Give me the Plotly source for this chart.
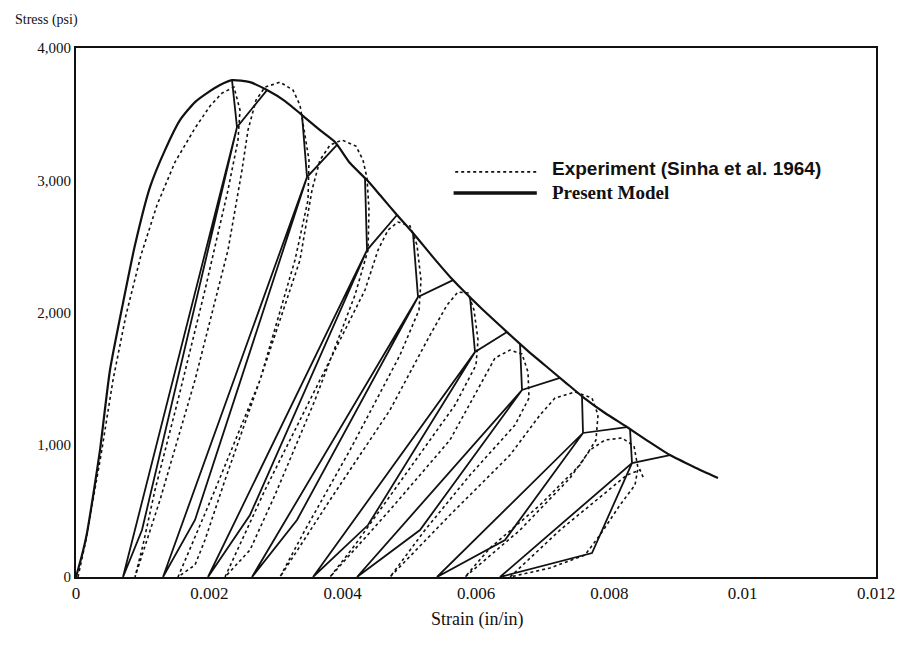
import plotly.graph_objects as go

# ---------------- data (strain in in/in, stress in psi) ----------------
envelope_strain = [0, 0.00009, 0.000165, 0.00027, 0.00036, 0.00051, 0.000705, 0.000885, 0.00111,
                   0.001335, 0.00156, 0.001785, 0.001965, 0.00216, 0.00234, 0.00261, 0.002865,
                   0.003135, 0.00339, 0.00366, 0.003885, 0.00411, 0.004365, 0.00456, 0.004815,
                   0.005055, 0.005355, 0.005655, 0.00606, 0.006465, 0.006765, 0.007065, 0.007335,
                   0.007605, 0.007935, 0.008265, 0.00858, 0.00891, 0.00927, 0.00963]
envelope_stress = [0, 166, 333, 658, 960, 1565, 2071, 2510, 2948,
                   3228, 3455, 3591, 3659, 3720, 3757, 3742, 3682,
                   3599, 3493, 3379, 3289, 3130, 3001, 2888, 2737,
                   2601, 2419, 2245, 2041, 1852, 1716, 1588, 1474,
                   1361, 1240, 1134, 1028, 922, 832, 748]

# model unload / reload cycles: start on envelope -> drop -> break -> residual -> back -> envelope
model_cycle_strain = [
    [0.00234, 0.002415, 0.00099, 0.000705, 0.002415, 0.002865],
    [0.00339, 0.003465, 0.001785, 0.001305, 0.003465, 0.003915],
    [0.004335, 0.004365, 0.00261, 0.00198, 0.004365, 0.004815],
    [0.005055, 0.00513, 0.003315, 0.00264, 0.00513, 0.005655],
    [0.00591, 0.005985, 0.00438, 0.003555, 0.005985, 0.006465],
    [0.00666, 0.00669, 0.00516, 0.004215, 0.00669, 0.00726],
    [0.00759, 0.007605, 0.006435, 0.005415, 0.007605, 0.008265],
    [0.00831, 0.00834, 0.00774, 0.00636, 0.00834, 0.00891],
]
model_cycle_stress = [
    [3757, 3402, 355, 0, 3402, 3682],
    [3493, 3024, 431, 0, 3024, 3268],
    [3016, 2472, 469, 0, 2472, 2737],
    [2601, 2117, 431, 0, 2117, 2245],
    [2117, 1701, 393, 0, 1701, 1852],
    [1764, 1414, 355, 0, 1414, 1506],
    [1367, 1089, 280, 0, 1089, 1134],
    [1119, 862, 181, 0, 862, 922],
]

# experiment (Sinha et al. 1964), one continuous record
exp_strain = [0.00003, 0.00015, 0.000255, 0.000375, 0.000555, 0.00075, 0.000975, 0.001215, 0.001485,
              0.001785, 0.00201, 0.00219, 0.00237,
              0.00246, 0.00243, 0.00228, 0.001935, 0.00153, 0.001185, 0.001005, 0.000885,
              0.00126, 0.001785, 0.00228, 0.00249, 0.00258, 0.0027, 0.002835, 0.00306, 0.003255, 0.00336, 0.003405,
              0.003495, 0.00348, 0.003285, 0.00276, 0.002235, 0.001935, 0.001785, 0.00153,
              0.002085, 0.00276, 0.00336, 0.00354, 0.00366, 0.00381, 0.00399, 0.0042, 0.004305, 0.004365,
              0.004395, 0.00438, 0.004185, 0.003585, 0.002985, 0.00261, 0.002235,
              0.002835, 0.00366, 0.004335, 0.00453, 0.00468, 0.00483, 0.00501, 0.005115,
              0.005175, 0.005145, 0.00486, 0.00411, 0.003435, 0.00306,
              0.00381, 0.00471, 0.00531, 0.005565, 0.00573, 0.00588, 0.00597,
              0.00603, 0.006, 0.005685, 0.004935, 0.004185, 0.00381,
              0.00471, 0.00561, 0.006105, 0.006285, 0.00651, 0.00669, 0.00678,
              0.006795, 0.006585, 0.00591, 0.005235, 0.00471,
              0.00561, 0.00651, 0.00696, 0.007185, 0.007485, 0.00774, 0.00783,
              0.0078, 0.00756, 0.00696, 0.00621, 0.005835,
              0.00666, 0.00741, 0.00771, 0.007935, 0.00819, 0.00837, 0.00843,
              0.008385, 0.00816, 0.00786, 0.007635, 0.00711, 0.00651,
              0.00726, 0.0079, 0.00826, 0.00846, 0.00852]
exp_stress = [0, 280, 582, 922, 1489, 1981, 2434, 2812, 3137,
              3394, 3561, 3659, 3704,
              3531, 3304, 2926, 2170, 1338, 658, 242, 0,
              582, 1489, 2472, 3077, 3379, 3606, 3704, 3742, 3682, 3568, 3417,
              3153, 2850, 2397, 1489, 733, 280, 91, 0,
              658, 1489, 2397, 2926, 3153, 3266, 3304, 3258, 3153, 3016,
              2775, 2472, 2132, 1338, 620, 204, 0,
              658, 1489, 2170, 2472, 2623, 2684, 2654, 2510,
              2245, 2019, 1678, 960, 355, 0,
              582, 1263, 1829, 2056, 2155, 2147, 2019,
              1792, 1603, 1300, 771, 242, 0,
              507, 1036, 1489, 1656, 1716, 1686, 1550,
              1353, 1149, 771, 355, 0,
              469, 922, 1225, 1353, 1399, 1353, 1225,
              1036, 847, 544, 219, 0,
              355, 748, 960, 1036, 1051, 990, 824,
              696, 544, 318, 166, 68, 0,
              355, 620, 770, 810, 740]

x_tick_vals = [0, 0.002, 0.004, 0.006, 0.008, 0.01, 0.012]
x_tick_text = ["0", "0.002", "0.004", "0.006", "0.008", "0.01", "0.012"]
y_tick_vals = [0, 1000, 2000, 3000, 4000]
y_tick_text = ["0", "1,000", "2,000", "3,000", "4,000"]

legend_labels = ["Experiment (Sinha et al. 1964)", "Present Model"]

INK = "#111111"
SERIF = "Liberation Serif, Times New Roman, serif"
SANS = "Liberation Sans, Arial, sans-serif"

fig = go.Figure()

fig.add_trace(go.Scatter(
    x=exp_strain, y=exp_stress, mode="lines",
    line=dict(color=INK, width=1.6, dash="dot"),
    name=legend_labels[0], showlegend=False,
    hoverinfo="skip"))

fig.add_trace(go.Scatter(
    x=envelope_strain, y=envelope_stress, mode="lines",
    line=dict(color=INK, width=2.2, shape="spline", smoothing=0.6),
    name=legend_labels[1], showlegend=False,
    hoverinfo="skip"))

for xs, ys in zip(model_cycle_strain, model_cycle_stress):
    fig.add_trace(go.Scatter(
        x=xs, y=ys, mode="lines",
        line=dict(color=INK, width=1.8),
        showlegend=False, hoverinfo="skip"))

# hand-drawn style legend inside the plot
legend_shapes = [
    dict(type="line", xref="paper", yref="paper", x0=0.474, x1=0.576, y0=0.766, y1=0.766,
         line=dict(color=INK, width=1.8, dash="dot")),
    dict(type="line", xref="paper", yref="paper", x0=0.472, x1=0.576, y0=0.726, y1=0.726,
         line=dict(color=INK, width=3.5)),
]
legend_annotations = [
    dict(text="<b>" + legend_labels[0] + "</b>", xref="paper", yref="paper",
         x=0.5925, y=0.773, xanchor="left", yanchor="middle", showarrow=False,
         font=dict(family=SANS, size=19, color=INK)),
    dict(text="<b>" + legend_labels[1] + "</b>", xref="paper", yref="paper",
         x=0.5925, y=0.726, xanchor="left", yanchor="middle", showarrow=False,
         font=dict(family=SERIF, size=19, color=INK)),
]

axis_annotations = [
    dict(text="Stress (psi)", xref="paper", yref="paper",
         x=-0.079, y=1.053, xanchor="left", yanchor="middle",
         showarrow=False, font=dict(family=SERIF, size=14, color=INK)),
    dict(text="Strain (in/in)", xref="paper", yref="paper",
         x=0.502, y=-0.081, xanchor="center", yanchor="middle",
         showarrow=False, font=dict(family=SERIF, size=18, color=INK)),
]

fig.update_layout(
    width=900, height=638,
    margin=dict(l=68, r=32, t=40, b=69),
    paper_bgcolor="white", plot_bgcolor="white",
    font=dict(family=SERIF, size=14, color=INK),
    showlegend=False,
    shapes=legend_shapes,
    annotations=axis_annotations + legend_annotations,
)

fig.update_xaxes(
    range=[0, 0.012], tickvals=x_tick_vals, ticktext=x_tick_text,
    showgrid=False, zeroline=False, showline=True, linecolor=INK, linewidth=1.8,
    mirror=True, ticks="", ticklen=0,
    tickfont=dict(family=SERIF, size=17, color=INK))
fig.update_yaxes(
    range=[0, 4000], tickvals=y_tick_vals, ticktext=y_tick_text,
    showgrid=False, zeroline=False, showline=True, linecolor=INK, linewidth=1.8,
    mirror=True, ticks="",
    tickfont=dict(family=SERIF, size=15, color=INK))

fig.write_html("out.html")
